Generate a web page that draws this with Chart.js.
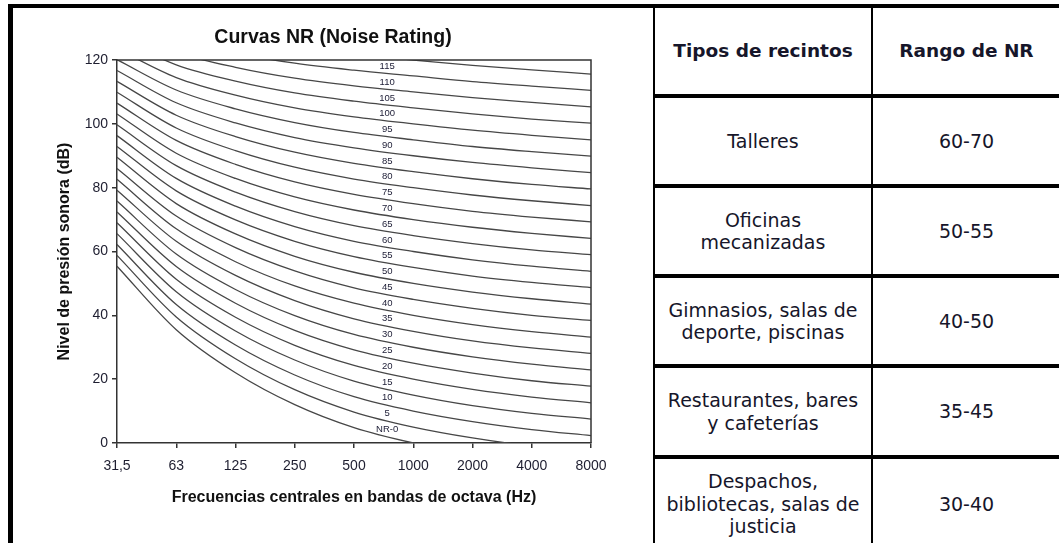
<!DOCTYPE html>
<html>
<head>
<meta charset="utf-8">
<script src="https://cdn.jsdelivr.net/npm/chart.js@4.4.1/dist/chart.umd.min.js"></script>
<style>
  html, body { margin: 0; padding: 0; background: #fff; }
  body { width: 1059px; height: 543px; position: relative; overflow: hidden; }
  .rule { position: absolute; background: #000; }
  #chartBox { position: absolute; left: 13px; top: 8px; width: 640px; height: 535px; }
  .cell {
    position: absolute; display: flex; align-items: center; justify-content: center;
    text-align: center; white-space: pre-line; color: #16162a;
    font-family: "DejaVu Sans", Verdana, sans-serif; font-size: 19px; line-height: 22.5px;
  }
  .cell.head { font-weight: bold; font-size: 18.5px; }
</style>
</head>
<body>
<div id="chartBox"><canvas id="nrChart"></canvas></div>
<div id="grid"></div>
<script>
// octave band centres (x categories)
const freqLabels = ['31,5', '63', '125', '250', '500', '1000', '2000', '4000', '8000'];

// NR curves, dB per octave band
const nr0   = [55.4, 35.5, 22.0, 12.0, 4.8, 0, -3.5, -6.1, -8.0];
const nr5   = [58.8, 39.5, 26.4, 16.7, 9.7, 5, 1.6, -1.0, -2.9];
const nr10  = [62.2, 43.4, 30.7, 21.3, 14.5, 10, 6.7, 4.2, 2.3];
const nr15  = [65.6, 47.4, 35.1, 26.0, 19.4, 15, 11.7, 9.3, 7.5];
const nr20  = [69.0, 51.3, 39.4, 30.6, 24.3, 20, 16.8, 14.4, 12.6];
const nr25  = [72.4, 55.3, 43.8, 35.3, 29.2, 25, 21.9, 19.5, 17.8];
const nr30  = [75.8, 59.2, 48.1, 39.9, 34.0, 30, 27.0, 24.7, 22.9];
const nr35  = [79.2, 63.2, 52.5, 44.6, 38.9, 35, 32.0, 29.8, 28.1];
const nr40  = [82.6, 67.1, 56.8, 49.2, 43.8, 40, 37.1, 34.9, 33.2];
const nr45  = [86.0, 71.1, 61.2, 53.9, 48.6, 45, 42.2, 40.0, 38.4];
const nr50  = [89.5, 75.0, 65.5, 58.5, 53.5, 50, 47.3, 45.2, 43.5];
const nr55  = [92.9, 79.0, 69.9, 63.2, 58.4, 55, 52.3, 50.3, 48.7];
const nr60  = [96.3, 82.9, 74.2, 67.8, 63.2, 60, 57.4, 55.4, 53.8];
const nr65  = [99.7, 86.9, 78.6, 72.5, 68.1, 65, 62.5, 60.5, 59.0];
const nr70  = [103.1, 90.8, 82.9, 77.1, 73.0, 70, 67.6, 65.7, 64.1];
const nr75  = [106.5, 94.8, 87.3, 81.8, 77.9, 75, 72.6, 70.8, 69.3];
const nr80  = [109.9, 98.7, 91.6, 86.4, 82.7, 80, 77.7, 75.9, 74.4];
const nr85  = [113.3, 102.7, 96.0, 91.1, 87.6, 85, 82.8, 81.0, 79.6];
const nr90  = [116.7, 106.6, 100.3, 95.7, 92.5, 90, 87.9, 86.2, 84.7];
const nr95  = [120.1, 110.6, 104.7, 100.4, 97.3, 95, 92.9, 91.3, 89.9];
const nr100 = [123.5, 114.5, 109.0, 105.0, 102.2, 100, 98.0, 96.4, 95.0];
const nr105 = [126.9, 118.5, 113.4, 109.7, 107.1, 105, 103.1, 101.5, 100.2];
const nr110 = [130.3, 122.4, 117.7, 114.3, 111.9, 110, 108.2, 106.7, 105.3];
const nr115 = [133.7, 126.4, 122.1, 119.0, 116.8, 115, 113.2, 111.8, 110.5];
const nr120 = [137.1, 130.3, 126.4, 123.6, 121.7, 120, 118.3, 116.9, 115.6];
const nrCurves = [nr0, nr5, nr10, nr15, nr20, nr25, nr30, nr35, nr40, nr45, nr50, nr55, nr60,
                  nr65, nr70, nr75, nr80, nr85, nr90, nr95, nr100, nr105, nr110, nr115, nr120];
const curveTags = ['NR-0', '5', '10', '15', '20', '25', '30', '35', '40', '45', '50', '55', '60',
                   '65', '70', '75', '80', '85', '90', '95', '100', '105', '110', '115', ''];

const yTicksMin = 0, yTicksMax = 120, yStep = 20;

// table on the right
const tableHeads = ['Tipos de recintos', 'Rango de NR'];
const recintos = ['Talleres', 'Oficinas\nmecanizadas', 'Gimnasios, salas de\ndeporte, piscinas',
                  'Restaurantes, bares\ny cafeterías', 'Despachos,\nbibliotecas, salas de\njusticia'];
const rangosNR = ['60-70', '50-55', '40-50', '35-45', '30-40'];

// ---- table layout ----
const grid = document.getElementById('grid');
const addRule = (l, t, w, h) => {
  const d = document.createElement('div'); d.className = 'rule';
  d.style.cssText = `left:${l}px;top:${t}px;width:${w}px;height:${h}px`;
  grid.appendChild(d);
};
addRule(8, 4, 1051, 4);     // top border
addRule(8, 4, 5, 539);      // left thick border
addRule(653, 4, 2, 539);    // chart | table
addRule(871, 4, 2, 539);    // column split
const rowLines = [94, 184, 274, 364, 455];
rowLines.forEach(y => addRule(653, y, 406, 4));

const rowTops = [8, 98, 188, 278, 368, 459];
const rowBots = [94, 184, 274, 364, 455, 549];
const cols = [[655, 871], [873, 1060]];
const addCell = (txt, r, c, head) => {
  const d = document.createElement('div');
  d.className = 'cell' + (head ? ' head' : '');
  d.style.left = cols[c][0] + 'px'; d.style.width = (cols[c][1] - cols[c][0]) + 'px';
  d.style.top = rowTops[r] + 'px'; d.style.height = (rowBots[r] - rowTops[r]) + 'px';
  d.textContent = txt;
  grid.appendChild(d);
};
tableHeads.forEach((h, c) => addCell(h, 0, c, true));
recintos.forEach((t, i) => { addCell(t, i + 1, 0); addCell(rangosNR[i], i + 1, 1); });

// ---- chart ----
Chart.defaults.font.family = '"Liberation Sans", Arial, sans-serif';

const plotFrame = {
  id: 'plotFrame',
  afterDraw(chart) {
    const { ctx, chartArea: a } = chart;
    ctx.save();
    ctx.strokeStyle = '#333'; ctx.lineWidth = 1.5;
    ctx.beginPath();
    ctx.moveTo(a.left, a.top); ctx.lineTo(a.right, a.top); ctx.lineTo(a.right, a.bottom);
    ctx.stroke();
    ctx.restore();
  }
};

// small tags sitting on each curve between 500 and 1000 Hz
const curveLabels = {
  id: 'curveLabels',
  afterDatasetsDraw(chart) {
    const { ctx } = chart; const xs = chart.scales.x, ys = chart.scales.y;
    const t = 0.56;
    ctx.save();
    ctx.font = '9.5px "Liberation Sans Narrow", "Liberation Sans", sans-serif';
    ctx.fillStyle = '#22223a'; ctx.textAlign = 'center'; ctx.textBaseline = 'middle';
    chart.data.datasets.forEach((ds, i) => {
      const tag = curveTags[i]; if (!tag) return;
      const v = ds.data[4] + (ds.data[5] - ds.data[4]) * t;
      ctx.fillText(tag, xs.getPixelForValue(4 + t), ys.getPixelForValue(v) - 7);
    });
    ctx.restore();
  }
};

new Chart(document.getElementById('nrChart').getContext('2d'), {
  type: 'line',
  data: {
    labels: freqLabels,
    datasets: nrCurves.map((vals, i) => ({
      label: 'NR ' + curveTags[i],
      data: vals,
      borderColor: '#474747', borderWidth: 1.3,
      pointRadius: 0, fill: false, cubicInterpolationMode: 'monotone'
    }))
  },
  options: {
    responsive: true, maintainAspectRatio: false, animation: false,
    layout: { padding: 0 },
    plugins: {
      legend: { display: false }, tooltip: { enabled: false },
      title: { display: true, text: 'Curvas NR (Noise Rating)', color: '#111',
               font: { size: 19.5, weight: 'bold' }, padding: { top: 18.3, bottom: 10.3 } }
    },
    scales: {
      x: {
        offset: false,
        grid: { drawOnChartArea: false, tickLength: 5, color: '#333', lineWidth: 1.5 },
        border: { color: '#333', width: 1.5 },
        ticks: { color: '#1e1e30', font: { size: 14 }, padding: 9.5, maxRotation: 0, autoSkip: false },
        title: { display: true, text: 'Frecuencias centrales en bandas de octava (Hz)', color: '#111',
                 font: { size: 16, weight: 'bold' }, padding: { top: 0, bottom: 35.5 } },
        afterFit: s => { s.height = 100; }
      },
      y: {
        min: yTicksMin, max: yTicksMax,
        grid: { drawOnChartArea: false, tickLength: 5, color: '#333', lineWidth: 1.5 },
        border: { color: '#333', width: 1.5 },
        ticks: { stepSize: yStep, color: '#1e1e30', font: { size: 14 }, padding: 4 },
        title: { display: true, text: 'Nivel de presión sonora (dB)', color: '#111',
                 font: { size: 16, weight: 'bold' }, padding: { top: 42.4, bottom: 0 } },
        afterFit: s => { s.width = 104; }
      },
      // empty right-hand band so the title stays centred on the whole cell
      yPad: {
        type: 'linear', position: 'right', display: true,
        grid: { display: false }, border: { display: false }, ticks: { display: false },
        afterFit: s => { s.width = 62; }
      }
    }
  },
  plugins: [plotFrame, curveLabels]
});
</script>
</body>
</html>
